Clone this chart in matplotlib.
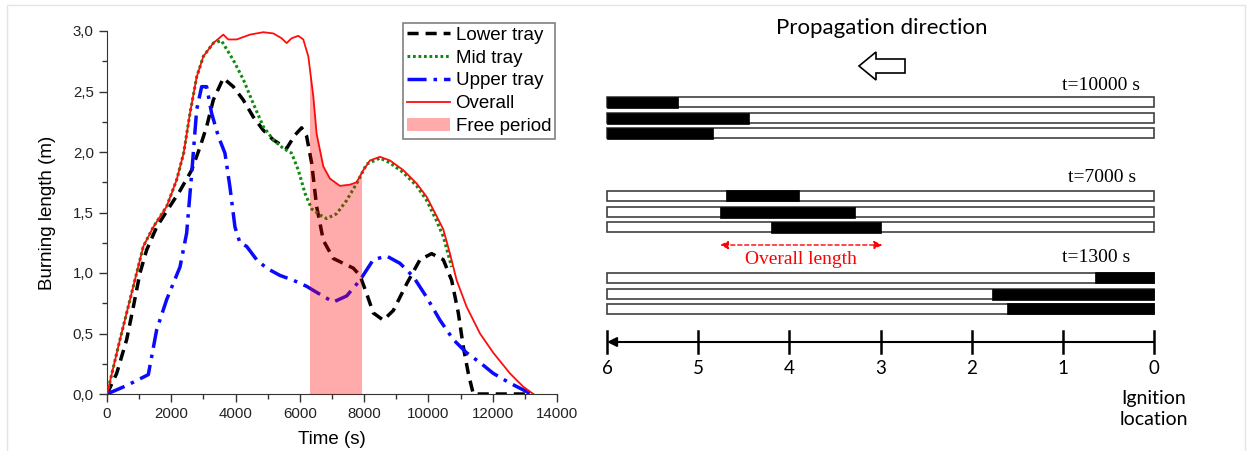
import numpy as np
import matplotlib
matplotlib.use('Agg')
import matplotlib.pyplot as plt
import matplotlib.patches as mpatches
import matplotlib.ticker as mticker

# ---- left panel data: burning length (m) vs time (s) ----
lower_t = [0, 301, 612, 819, 1026, 1233, 1545, 1856, 2271, 2634, 2893, 3100,
           3307, 3618, 3929, 4240, 4551, 4863, 5174, 5589, 5848, 6055, 6211,
           6366, 6522, 6730, 7041, 7352, 7663, 7870, 8077, 8285, 8596, 8907,
           9322, 9737, 10100, 10463, 10722, 10930, 11085, 11241, 11396, 13100]
lower_y = [0, 0.17, 0.45, 0.72, 1.0, 1.19, 1.38, 1.51, 1.68, 1.85, 2.04, 2.21,
           2.43, 2.61, 2.54, 2.43, 2.29, 2.18, 2.10, 2.03, 2.14, 2.20, 2.13,
           1.91, 1.55, 1.27, 1.12, 1.08, 1.04, 0.98, 0.83, 0.67, 0.61, 0.69,
           0.91, 1.11, 1.16, 1.11, 0.94, 0.67, 0.39, 0.17, 0.0, 0.0]

overall_t = [0, 404, 819, 1130, 1441, 1856, 2167, 2384, 2582, 2790, 2997, 3307,
             3618, 3774, 4033, 4448, 4863, 5174, 5433, 5589, 5744, 5952, 6107,
             6263, 6418, 6522, 6730, 6937, 7248, 7559, 7766, 7974, 8181, 8492,
             8803, 9218, 9633, 9944, 10255, 10463, 10670, 10878, 11189, 11604,
             12019, 12537, 12952, 13263]
overall_y = [0, 0.45, 0.89, 1.22, 1.38, 1.55, 1.77, 1.99, 2.32, 2.62, 2.79, 2.90,
             2.97, 2.93, 2.93, 2.97, 2.99, 2.98, 2.94, 2.90, 2.94, 2.96, 2.93,
             2.79, 2.46, 2.15, 1.88, 1.78, 1.72, 1.73, 1.75, 1.85, 1.93, 1.96,
             1.93, 1.85, 1.74, 1.63, 1.47, 1.36, 1.16, 0.94, 0.72, 0.50,
             0.34, 0.17, 0.06, 0.0]

mid_t = [0, 404, 819, 1130, 1441, 1856, 2167, 2384, 2582, 2790, 2997, 3307, 3560,
         3929, 4240, 4551, 4863, 5174, 5485, 5744, 5952, 6159, 6366, 6626,
         6833, 7144, 7455, 7766, 7922, 8077, 8492, 8803, 9218, 9633, 9944,
         10255, 10463, 10722]
mid_y = [0, 0.45, 0.89, 1.22, 1.38, 1.55, 1.77, 1.99, 2.32, 2.62, 2.79, 2.90, 2.92,
         2.76, 2.60, 2.40, 2.21, 2.10, 2.03, 1.99, 1.85, 1.66, 1.53, 1.48,
         1.45, 1.49, 1.60, 1.74, 1.82, 1.90, 1.95, 1.91, 1.83, 1.72, 1.60,
         1.43, 1.30, 1.05]

upper_t = [0, 612, 1285, 1545, 1856, 2271, 2478, 2634, 2790, 2945, 3100, 3255,
           3463, 3670, 3825, 3981, 4136, 4344, 4655, 4966, 5381, 5796, 6211,
           6522, 7041, 7455, 7870, 8285, 8700, 9115, 9529, 9944, 10359, 10774,
           11189, 11604, 12019, 12537, 13056, 13150]
upper_y = [0, 0.07, 0.16, 0.53, 0.78, 1.05, 1.33, 1.82, 2.35, 2.54, 2.54, 2.32,
           2.13, 1.99, 1.71, 1.38, 1.25, 1.22, 1.11, 1.04, 0.98, 0.94, 0.89,
           0.84, 0.76, 0.81, 0.94, 1.11, 1.14, 1.08, 0.97, 0.80, 0.61, 0.45,
           0.34, 0.26, 0.17, 0.09, 0.02, 0.0]

free_start, free_end = 6300, 7920

# ---- right panel data: burnt segments (m from ignition) for each snapshot ----
snap_labels = ['t=10000 s', 't=7000 s', 't=1300 s']
snap_segments = [
    [(6.0, 5.22), (6.0, 4.44), (6.0, 4.84)],
    [(4.69, 3.89), (4.76, 3.28), (4.20, 2.99)],
    [(0.65, 0.0), (1.78, 0.0), (1.61, 0.0)],
]
overall_len = (4.76, 2.98)
scale_ticks = [6, 5, 4, 3, 2, 1, 0]
tray_length = 6.0

W, H = 1251, 451
fig = plt.figure(figsize=(W / 100, H / 100), dpi=100)
fig.patches.append(mpatches.Rectangle((7 / W, -0.1), 1238 / W, 1 - 5 / H + 0.1,
                                      transform=fig.transFigure, fill=False,
                                      edgecolor='#e4e4e4', lw=1))

sans = 'Liberation Sans'
ax = fig.add_axes([107 / W, 1 - 394 / H, 450 / W, 363 / H])
ft = np.linspace(free_start, free_end, 80)
ax.plot(lower_t, lower_y, color='black', lw=2.5, ls=(0, (3.2, 2)), zorder=3, label='Lower tray')
ax.plot(mid_t, mid_y, color='#108a10', lw=2.2, ls=(0, (0.9, 0.9)), zorder=3, label='Mid tray')
ax.plot(upper_t, upper_y, color='#0a0aff', lw=2.5, ls=(0, (5.5, 2, 1, 2)), zorder=3, label='Upper tray')
ax.plot(overall_t, overall_y, color='#ff0d0d', lw=1.3, zorder=4, label='Overall')
ax.fill_between(ft, 0, np.interp(ft, overall_t, overall_y), color='red', alpha=0.33,
                lw=0, zorder=5, label='Free period')

ax.set_xlim(0, 14000)
ax.set_ylim(0, 3.0)
ax.spines['top'].set_visible(False)
ax.spines['right'].set_visible(False)
for sp in ('left', 'bottom'):
    ax.spines[sp].set_color('#333333')
ax.xaxis.set_major_locator(mticker.MultipleLocator(2000))
ax.xaxis.set_minor_locator(mticker.MultipleLocator(1000))
ax.yaxis.set_major_locator(mticker.MultipleLocator(0.5))
ax.yaxis.set_minor_locator(mticker.MultipleLocator(0.25))
ax.yaxis.set_major_formatter(mticker.FuncFormatter(lambda v, p: ('%.1f' % v).replace('.', ',')))
ax.tick_params(which='major', length=6, width=1, labelsize=10.8, direction='out',
               color='#333333', labelcolor='#222222')
ax.tick_params(which='minor', length=3.5, width=1, direction='out', color='#333333')
for lab in ax.get_xticklabels() + ax.get_yticklabels():
    lab.set_fontfamily(sans)
ax.set_xlabel('Time (s)', fontsize=13.5, family=sans, labelpad=7)
ax.set_ylabel('Burning length (m)', fontsize=13.5, family=sans, labelpad=12)

h, l = ax.get_legend_handles_labels()
order = [l.index(n) for n in ['Lower tray', 'Mid tray', 'Upper tray', 'Overall', 'Free period']]
leg = ax.legend([h[i] for i in order], [l[i] for i in order], loc='upper left',
                bbox_to_anchor=(403 / W, 1 - 23 / H), bbox_transform=fig.transFigure,
                prop={'family': sans, 'size': 13.5}, fancybox=False, framealpha=1,
                edgecolor='#808080', handlelength=2.3, handletextpad=0.3,
                labelspacing=0.3, borderpad=0.2, borderaxespad=0)
leg.get_frame().set_linewidth(1.2)

# ---- right panel schematic: x in metres (6 left, 0 right), y in pixel rows ----
m_per_px = tray_length / (1154 - 607)
rx = fig.add_axes([600 / W, 0, 651 / W, 1])
rx.set_xlim(6 + 7 * m_per_px, 0 - 97 * m_per_px)
rx.set_ylim(H, 0)
rx.axis('off')

row_y = [[102, 118, 133], [195.5, 212, 227], [277.5, 294, 308.5]]
label_y = [85, 177, 257]
label_x = [1140, 1136, 1130]
bar_h = 10
for s, segs in enumerate(snap_segments):
    for r, (a, b) in enumerate(segs):
        y = row_y[s][r]
        rx.add_patch(mpatches.Rectangle((tray_length, y - bar_h / 2), -tray_length, bar_h,
                                        facecolor='white', edgecolor='#404040', lw=1.2))
        rx.add_patch(mpatches.Rectangle((a, y - bar_h / 2 - 0.5), b - a, bar_h + 1,
                                        facecolor='black', edgecolor='black', lw=0.5))
    rx.text((1154 - label_x[s]) * m_per_px, label_y[s], snap_labels[s], ha='right', va='center',
            family='Liberation Serif', fontsize=14)

# overall length arrow
rx.annotate('', xy=(overall_len[0], 245), xytext=(overall_len[1], 245),
            arrowprops=dict(arrowstyle='<|-|>', color='red', lw=1, ls=(0, (3, 2)),
                            mutation_scale=12, shrinkA=0, shrinkB=0))
rx.text(sum(overall_len) / 2, 259, 'Overall length', color='red', ha='center', va='center',
        family='Liberation Serif', fontsize=14)

# distance axis
axis_y = 342
rx.annotate('', xy=(tray_length, axis_y), xytext=(0, axis_y),
            arrowprops=dict(arrowstyle='-|>', color='black', lw=1.5, mutation_scale=14,
                            shrinkA=0, shrinkB=0))
for t in scale_ticks:
    rx.plot([t, t], [axis_y - 11, axis_y + 11], color='black', lw=1.8)
    rx.text(t, 368, str(t), ha='center', va='center', family='Lato', fontsize=13.5)
rx.text(0, 409, 'Ignition\nlocation', ha='center', va='center', family='Lato',
        fontsize=14, linespacing=1.3)

# propagation direction
rx.text((1154 - 882) * m_per_px, 28, 'Propagation direction', ha='center', va='center',
        family='Lato', fontsize=16)
px = lambda p: (1154 - p) * m_per_px
arrow_pts = [(px(859), 66), (px(876), 52), (px(876), 59), (px(905), 59),
             (px(905), 73), (px(876), 73), (px(876), 80)]
rx.add_patch(mpatches.Polygon(arrow_pts, closed=True, facecolor='white', edgecolor='black', lw=1.2))

fig.savefig('out.png', dpi=100)
